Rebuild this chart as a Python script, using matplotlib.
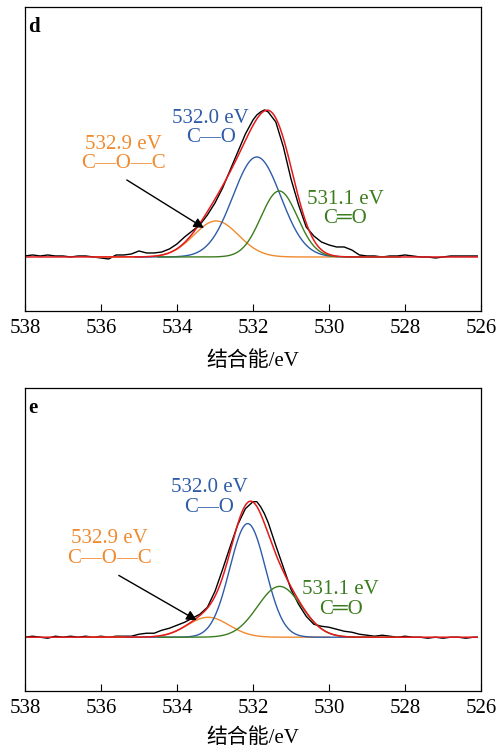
import numpy as np
import matplotlib
matplotlib.use("Agg")
import matplotlib.pyplot as plt

plt.rcParams['font.family'] = ['Liberation Serif', 'Noto Sans CJK SC', 'DejaVu Serif']
plt.rcParams['font.size'] = 15

# raw spectra (binding energy in eV, intensity in arbitrary units)
energy = [538.0, 537.8, 537.6, 537.4, 537.2, 537.0, 536.8, 536.6, 536.4, 536.2,
          536.0, 535.8, 535.6, 535.4, 535.2, 535.0, 534.8, 534.6, 534.4, 534.2,
          534.0, 533.8, 533.6, 533.4, 533.2, 533.0, 532.8, 532.6, 532.4, 532.2,
          532.0, 531.9, 531.8, 531.7, 531.6, 531.4, 531.2, 531.0, 530.8, 530.6,
          530.4, 530.2, 530.0, 529.8, 529.6, 529.4, 529.2, 529.0, 528.8, 528.6,
          528.4, 528.2, 528.0, 527.8, 527.6, 527.4, 527.2, 527.0, 526.8, 526.6,
          526.4, 526.2, 526.1]

raw_d = [0.01, 0.02, 0.01, 0.02, 0.01, 0.01, 0.00, 0.01, 0.01, 0.00,
         -0.01, -0.02, 0.02, 0.02, 0.03, 0.06, 0.04, 0.04, 0.05, 0.08,
         0.13, 0.20, 0.26, 0.32, 0.42, 0.54, 0.69, 0.87, 1.05, 1.23,
         1.37, 1.42, 1.45, 1.47, 1.45, 1.35, 1.10, 0.78, 0.52, 0.30,
         0.21, 0.15, 0.12, 0.10, 0.10, 0.07, 0.02, 0.01, 0.01, 0.00,
         0.01, 0.01, 0.02, 0.01, 0.00, 0.00, -0.01, 0.00, 0.01, 0.01,
         0.01, 0.01, 0.01]

raw_e = [0.00, 0.01, 0.00, -0.01, 0.01, 0.00, 0.01, 0.00, 0.01, 0.00,
         0.01, 0.00, 0.01, 0.01, 0.01, 0.03, 0.04, 0.04, 0.07, 0.09,
         0.12, 0.15, 0.19, 0.23, 0.30, 0.46, 0.68, 0.91, 1.13, 1.29,
         1.36, 1.36, 1.31, 1.24, 1.15, 0.92, 0.70, 0.48, 0.33, 0.21,
         0.13, 0.11, 0.10, 0.08, 0.06, 0.05, 0.03, 0.02, 0.01, 0.02,
         0.01, 0.00, 0.01, 0.00, 0.00, -0.01, 0.00, -0.01, 0.00, 0.00,
         -0.01, 0.00, 0.00]

# fitted components: (centre, height, sigma) for C-O-C, C-O, C=O
peaks_d = [(532.97, 0.36, 0.59), (531.90, 1.00, 0.63), (531.31, 0.66, 0.48)]
peaks_e = [(533.18, 0.20, 0.55), (532.14, 1.14, 0.47), (531.30, 0.51, 0.58)]

peak_labels = ['532.9 eV\nC\u2014O\u2014C', '532.0 eV\nC\u2014O', '531.1 eV\nC\u2550O']
# label positions (energy, intensity) per panel
label_pos_d = [(535.41, 1.03), (533.11, 1.29), (529.58, 0.48)]
label_pos_e = [(535.79, 0.89), (533.15, 1.40), (529.69, 0.38)]
arrow_d = [(535.32, 0.77), (533.29, 0.29)]
arrow_e = [(535.53, 0.62), (533.48, 0.17)]

colors = ['#f08a2f', '#2e5ca8', '#3b7d1e']
red = '#e41a1c'

fig = plt.figure(figsize=(4.99, 7.49), dpi=100)
ax_d = fig.add_axes([0.050, 0.5848, 0.914, 0.4059])
ax_e = fig.add_axes([0.050, 0.0774, 0.914, 0.4045])

xx = np.linspace(538, 526.1, 600)


def gauss(x, c, h, s):
    return h * np.exp(-(x - c) ** 2 / (2 * s ** 2))


for ax, raw, peaks, lpos, arr, tag, lp in [(ax_d, raw_d, peaks_d, label_pos_d, arrow_d, 'd', 9),
                                            (ax_e, raw_e, peaks_e, label_pos_e, arrow_e, 'e', 7)]:
    ax.plot(energy, raw, color='black', lw=1.0)
    total = np.zeros_like(xx)
    for (c, h, s), col in zip(peaks, colors):
        comp = gauss(xx, c, h, s)
        total += comp
        m = (xx < c + 3.2) & (xx > c - 3.2)
        ax.plot(xx[m], comp[m], color=col, lw=1.0)
    ax.plot(xx, total, color=red, lw=1.1)

    for txt, (x, y), col in zip(peak_labels, lpos, colors):
        ax.text(x, y, txt, color=col, ha='center', va='center', fontsize=15,
                linespacing=1.05, family=['Liberation Serif', 'DejaVu Serif'])
    ax.annotate('', xy=arr[1], xytext=arr[0],
                arrowprops=dict(arrowstyle='-|>', color='black', lw=1.0,
                                mutation_scale=15, shrinkA=0, shrinkB=0))

    ax.text(0.008, 0.935, tag, transform=ax.transAxes, fontsize=15,
            fontweight='bold', va='center', ha='left')

    ax.set_xlim(538, 526)
    ax.set_ylim(-0.54, 2.50)
    ax.set_xticks([538, 536, 534, 532, 530, 528, 526])
    ax.set_yticks([])
    ax.tick_params(axis='x', direction='in', length=5, width=0.8, pad=6, labelsize=15)
    for sp in ax.spines.values():
        sp.set_linewidth(0.9)
    ax.set_xlabel('结合能/eV', fontsize=15, labelpad=lp)

fig.savefig('out.png', dpi=100)
